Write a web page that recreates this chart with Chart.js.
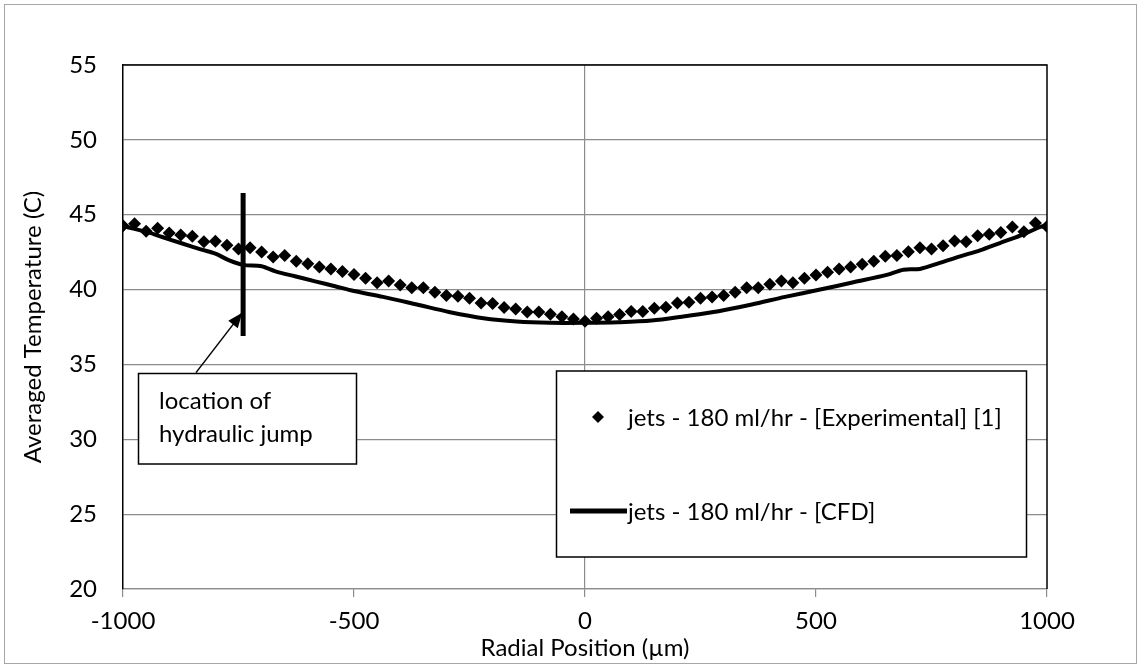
<!DOCTYPE html>
<html>
<head>
<meta charset="utf-8">
<script src="https://cdn.jsdelivr.net/npm/chart.js@4"></script>
<style>
  html, body { margin: 0; padding: 0; background: #fff; }
  #wrap { position: relative; width: 1142px; height: 666px; }
  #frame { position: absolute; left: 4px; top: 4px; width: 1133px; height: 660px; border: 1px solid #a6a6a6; box-sizing: border-box; pointer-events: none; }
</style>
</head>
<body>
<div id="wrap">
  <canvas id="myChart" width="1142" height="666"></canvas>
  <div id="frame"></div>
</div>
<script>
// experimental points, every 25 um
var expX = [-1000, -975, -950, -925, -900, -875, -850, -825, -800, -775, -750, -725, -700, -675, -650, -625, -600, -575, -550, -525,
  -500, -475, -450, -425, -400, -375, -350, -325, -300, -275, -250, -225, -200, -175, -150, -125, -100, -75, -50, -25,
  0, 25, 50, 75, 100, 125, 150, 175, 200, 225, 250, 275, 300, 325, 350, 375, 400, 425, 450, 475,
  500, 525, 550, 575, 600, 625, 650, 675, 700, 725, 750, 775, 800, 825, 850, 875, 900, 925, 950, 975, 1000];
var expY = [44.27, 44.4, 43.9, 44.1, 43.78, 43.64, 43.56, 43.2, 43.22, 42.96, 42.71, 42.8, 42.51, 42.18, 42.27, 41.89, 41.73, 41.51, 41.38, 41.2,
  41.0, 40.75, 40.45, 40.58, 40.31, 40.13, 40.13, 39.82, 39.6, 39.55, 39.42, 39.11, 39.07, 38.8, 38.71, 38.51, 38.51, 38.35, 38.18, 38.04,
  37.89, 38.09, 38.18, 38.33, 38.53, 38.53, 38.75, 38.82, 39.11, 39.15, 39.42, 39.51, 39.6, 39.82, 40.13, 40.13, 40.35, 40.58, 40.45, 40.75,
  40.98, 41.15, 41.38, 41.51, 41.69, 41.89, 42.22, 42.27, 42.53, 42.8, 42.71, 42.93, 43.25, 43.2, 43.6, 43.69, 43.82, 44.18, 43.87, 44.45, 44.22];

// CFD curve
var cfdX = [-1000, -975, -945, -915, -875, -830, -800, -770, -740, -700, -670, -628, -584, -541, -500, -437, -364, -292, -220, -148, -76,
  0, 72, 144, 216, 289, 361, 433, 509, 581, 653, 689, 725, 768, 812, 855, 898, 942, 985, 1000];
var cfdY = [44.25, 44.05, 43.82, 43.51, 43.11, 42.67, 42.4, 41.95, 41.65, 41.56, 41.22, 40.89, 40.55, 40.22, 39.9, 39.51, 39.0, 38.49, 38.09, 37.87, 37.78,
  37.78, 37.82, 37.93, 38.22, 38.55, 39.0, 39.51, 40.0, 40.49, 40.98, 41.33, 41.38, 41.78, 42.22, 42.62, 43.11, 43.6, 44.18, 44.3];

// hydraulic jump marker and arrow
var jumpX = [-740, -740];
var jumpY = [46.45, 36.9];
var arrowX = [-842, -742];
var arrowY = [34.45, 38.46];

var xTicks = [-1000, -500, 0, 500, 1000];
var yTicks = [20, 25, 30, 35, 40, 45, 50, 55];

var expLabel = 'jets - 180 ml/hr - [Experimental] [1]';
var cfdLabel = 'jets - 180 ml/hr - [CFD]';
var noteLines = ['location of', 'hydraulic jump'];

var FONT = 'Lato';
var GRID = '#8c8c8c';

function pts(xs, ys) {
  return xs.map(function (x, i) { return { x: x, y: ys[i] }; });
}

var extras = {
  id: 'extras',
  beforeDatasetsDraw: function (chart) {
    var a = chart.chartArea, c = chart.ctx;
    c.save();
    c.strokeStyle = '#000';
    c.lineWidth = 1.5;
    c.beginPath();
    c.moveTo(a.left, a.top);
    c.lineTo(a.right, a.top);
    c.lineTo(a.right, a.bottom);
    c.stroke();
    c.restore();
  },
  afterDatasetsDraw: function (chart) {
    var c = chart.ctx;
    var xs = chart.scales.x, ys = chart.scales.y;
    c.save();
    // arrow head
    var x0 = xs.getPixelForValue(arrowX[0]), y0 = ys.getPixelForValue(arrowY[0]);
    var x1 = xs.getPixelForValue(arrowX[1]), y1 = ys.getPixelForValue(arrowY[1]);
    var ang = Math.atan2(y1 - y0, x1 - x0);
    c.fillStyle = '#000';
    c.beginPath();
    c.moveTo(x1, y1);
    c.lineTo(x1 - 15 * Math.cos(ang) + 6 * Math.sin(ang), y1 - 15 * Math.sin(ang) - 6 * Math.cos(ang));
    c.lineTo(x1 - 15 * Math.cos(ang) - 6 * Math.sin(ang), y1 - 15 * Math.sin(ang) + 6 * Math.cos(ang));
    c.closePath();
    c.fill();

    // note box
    c.fillStyle = '#fff';
    c.strokeStyle = '#000';
    c.lineWidth = 1.5;
    c.fillRect(138.5, 373.5, 218, 90.5);
    c.strokeRect(138.5, 373.5, 218, 90.5);
    c.fillStyle = '#000';
    c.font = '24px ' + FONT;
    c.textBaseline = 'middle';
    c.textAlign = 'left';
    c.fillText(noteLines[0], 159, 401);
    c.fillText(noteLines[1], 159, 434);

    // legend box
    c.fillStyle = '#fff';
    c.fillRect(556.5, 371, 470, 186);
    c.strokeRect(556.5, 371, 470, 186);
    c.fillStyle = '#000';
    c.beginPath();
    c.moveTo(598, 411); c.lineTo(604, 417); c.lineTo(598, 423); c.lineTo(592, 417);
    c.closePath();
    c.fill();
    c.fillText(expLabel, 628, 418);
    c.lineWidth = 5;
    c.beginPath();
    c.moveTo(570, 511); c.lineTo(627, 511);
    c.stroke();
    c.fillText(cfdLabel, 628, 512);
    c.restore();
  }
};

function draw() {
  new Chart('myChart', {
    type: 'scatter',
    data: {
      datasets: [{
        label: expLabel,
        data: pts(expX, expY),
        pointStyle: 'rectRot',
        pointRadius: 6.5,
        backgroundColor: '#000',
        borderColor: '#000',
        borderWidth: 0,
        showLine: false
      }, {
        label: cfdLabel,
        data: pts(cfdX, cfdY),
        showLine: true,
        borderColor: '#000',
        borderWidth: 4,
        pointRadius: 0,
        tension: 0.3
      }, {
        label: 'jump',
        data: pts(jumpX, jumpY),
        showLine: true,
        borderColor: '#000',
        borderWidth: 5,
        pointRadius: 0
      }, {
        label: 'arrow',
        data: pts(arrowX, arrowY),
        showLine: true,
        borderColor: '#000',
        borderWidth: 1.5,
        pointRadius: 0
      }]
    },
    options: {
      responsive: false,
      animation: false,
      events: [],
      layout: { padding: { left: 0, top: 65, right: 95, bottom: 0 } },
      plugins: {
        legend: { display: false },
        tooltip: { enabled: false }
      },
      scales: {
        x: {
          type: 'linear',
          min: -1000,
          max: 1000,
          afterBuildTicks: function (s) { s.ticks = xTicks.map(function (v) { return { value: v }; }); },
          afterFit: function (s) { s.height = 77; },
          grid: {
            color: function (ctx) { return ctx.tick && ctx.tick.value === 0 ? GRID : 'rgba(0,0,0,0)'; },
            tickColor: GRID,
            tickLength: 8,
            lineWidth: 1.2
          },
          border: { color: GRID, width: 1.2 },
          ticks: {
            color: '#000', font: { family: FONT, size: 24 }, padding: 10, maxRotation: 0,
            callback: function (v) { return String(v); }
          },
          title: { display: true, text: 'Radial Position (µm)', color: '#000', font: { family: FONT, size: 24 }, padding: { top: 0, bottom: 3 } }
        },
        y: {
          type: 'linear',
          min: 20,
          max: 55,
          afterBuildTicks: function (s) { s.ticks = yTicks.map(function (v) { return { value: v }; }); },
          afterFit: function (s) { s.width = 123; },
          grid: { color: GRID, lineWidth: 1.2, drawTicks: false },
          border: { color: '#000', width: 1.5 },
          ticks: { color: '#000', font: { family: FONT, size: 24 }, padding: 26 },
          title: { display: true, text: 'Averaged Temperature (C)', color: '#000', font: { family: FONT, size: 24 }, padding: { top: 19, bottom: 0 } }
        }
      }
    },
    plugins: [extras]
  });
}

if (document.fonts && document.fonts.load) {
  document.fonts.load('24px ' + FONT).then(draw, draw);
} else {
  draw();
}
</script>
</body>
</html>
